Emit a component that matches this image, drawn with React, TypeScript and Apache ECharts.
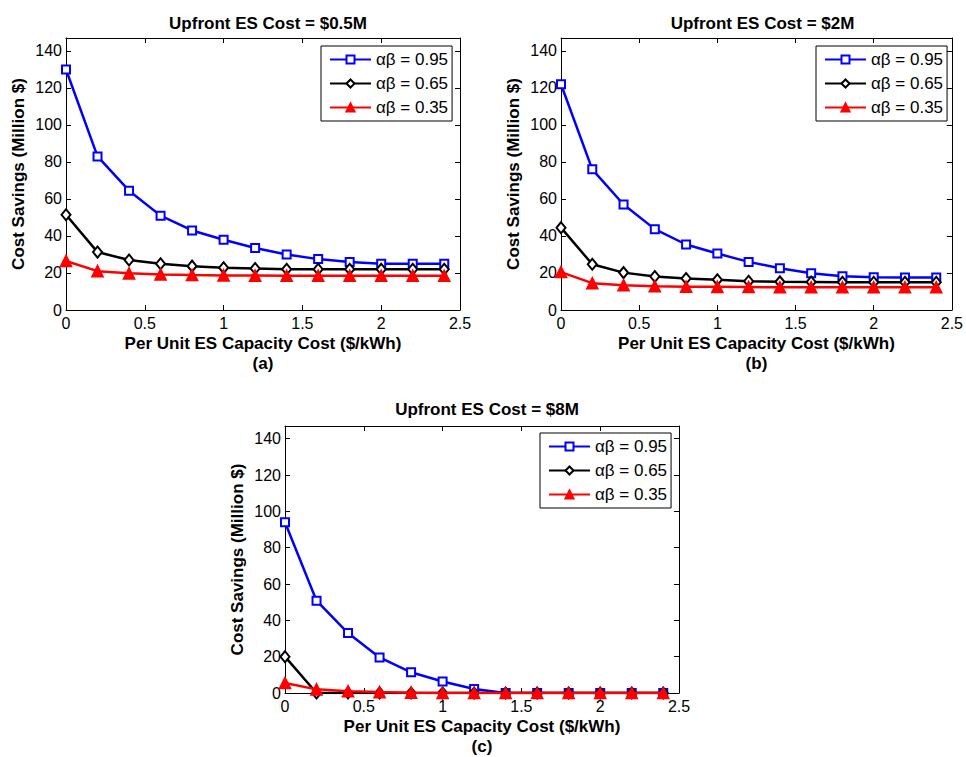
import React, { useEffect, useRef } from "react";
import * as echarts from "echarts";

// Per unit ES capacity cost ($/kWh)
const capacityCost = [0, 0.2, 0.4, 0.6, 0.8, 1.0, 1.2, 1.4, 1.6, 1.8, 2.0, 2.2, 2.4];
const xTicks = [0, 0.5, 1, 1.5, 2, 2.5];

const seriesNames = ["αβ = 0.95", "αβ = 0.65", "αβ = 0.35"];

// Upfront ES cost = $0.5M
const savingsA095 = [130, 83, 64.5, 51, 43, 38, 33.5, 30, 27.5, 26, 25, 25, 25];
const savingsA065 = [51.5, 31.3, 27, 25, 23.7, 22.8, 22.4, 22, 22, 22, 22, 22, 22];
const savingsA035 = [26.5, 21, 19.8, 19.2, 18.9, 18.7, 18.6, 18.5, 18.5, 18.5, 18.5, 18.5, 18.5];

// Upfront ES cost = $2M
const savingsB095 = [122, 76, 57, 43.7, 35.4, 30.5, 26, 22.6, 19.9, 18.2, 17.7, 17.6, 17.6];
const savingsB065 = [44.5, 24.7, 20.2, 18.1, 17, 16.3, 15.5, 15.2, 15.1, 15, 15, 15, 15];
const savingsB035 = [20.5, 14.5, 13.4, 12.8, 12.6, 12.5, 12.4, 12.3, 12.3, 12.3, 12.3, 12.3, 12.3];

// Upfront ES cost = $8M
const savingsC095 = [94, 50.8, 33, 19.6, 11.4, 6.3, 2.2, 0, 0, 0, 0, 0, 0];
const savingsC065 = [20, 0, 0, 0, 0, 0, 0, 0, 0, 0, 0, 0, 0];
const savingsC035 = [5.5, 2, 1, 0.5, 0.2, 0, 0, 0, 0, 0, 0, 0, 0];

const panels = [
  { title: "Upfront ES Cost = $0.5M", tag: "(a)", data: [savingsA095, savingsA065, savingsA035] },
  { title: "Upfront ES Cost = $2M", tag: "(b)", data: [savingsB095, savingsB065, savingsB035] },
  { title: "Upfront ES Cost = $8M", tag: "(c)", data: [savingsC095, savingsC065, savingsC035] },
];

const FONT = "'Liberation Sans', Arial, Helvetica, sans-serif";

const grids = [
  { left: 66, top: 38, width: 394, height: 272 },
  { left: 561, top: 38, width: 393, height: 272 },
  { left: 285, top: 426, width: 394, height: 270 },
];
const titleTops = [10, 10, 396];
const legendPos = [
  { left: 321, top: 46 },
  { left: 816, top: 46 },
  { left: 540, top: 433 },
];

const styles = [
  { color: "#0000ff", symbol: "emptyRect", symbolSize: 8 },
  { color: "#000000", symbol: "emptyDiamond", symbolSize: [9, 11] },
  { color: "#ff0000", symbol: "triangle", symbolSize: 11 },
];

export default function App() {
  const ref = useRef<HTMLDivElement>(null);

  useEffect(() => {
    if (!ref.current) return;
    const chart = echarts.init(ref.current, undefined, { renderer: "svg" });

    const xAxis: any[] = [];
    const yAxis: any[] = [];
    const series: any[] = [];
    const title: any[] = [];
    const legend: any[] = [];

    panels.forEach((p, i) => {
      const g = grids[i];
      const tickIn = { show: true, inside: true, length: 5, lineStyle: { color: "#000", width: 1 } };
      const line = { show: true, onZero: false, lineStyle: { color: "#000", width: 1 } };
      const xMax = xTicks[xTicks.length - 1];
      xAxis.push({
        type: "value",
        gridIndex: i,
        position: "bottom",
        min: xTicks[0],
        max: xMax,
        interval: 0.5,
        axisLine: line,
        axisTick: tickIn,
        splitLine: { show: false },
        axisLabel: { color: "#000", fontSize: 16, fontFamily: FONT, margin: 5 },
        name: "Per Unit ES Capacity Cost ($/kWh)\n" + p.tag,
        nameLocation: "middle",
        nameGap: 23,
        nameTextStyle: { color: "#000", fontSize: 17, fontWeight: "bold", fontFamily: FONT, lineHeight: 20 },
      });
      xAxis.push({
        type: "value",
        gridIndex: i,
        position: "top",
        min: xTicks[0],
        max: xMax,
        interval: 0.5,
        axisLine: line,
        axisTick: tickIn,
        splitLine: { show: false },
        axisLabel: { show: false },
      });
      yAxis.push({
        type: "value",
        gridIndex: i,
        position: "left",
        min: 0,
        max: 147,
        interval: 20,
        axisLine: line,
        axisTick: tickIn,
        splitLine: { show: false },
        axisLabel: { color: "#000", fontSize: 16, fontFamily: FONT, margin: 4, showMaxLabel: false },
        name: "Cost Savings (Million $)",
        nameLocation: "middle",
        nameRotate: 90,
        nameGap: 39,
        nameTextStyle: { color: "#000", fontSize: 17, fontWeight: "bold", fontFamily: FONT },
      });
      yAxis.push({
        type: "value",
        gridIndex: i,
        position: "right",
        min: 0,
        max: 147,
        interval: 20,
        axisLine: line,
        axisTick: tickIn,
        splitLine: { show: false },
        axisLabel: { show: false },
      });

      p.data.forEach((vals, k) => {
        const st = styles[k];
        series.push({
          type: "line",
          name: seriesNames[k],
          xAxisIndex: i * 2,
          yAxisIndex: i * 2,
          data: capacityCost.map((x, j) => [x, vals[j]]),
          symbol: st.symbol,
          symbolSize: st.symbolSize,
          showAllSymbol: true,
          lineStyle: { color: st.color, width: 2.5 },
          itemStyle: { color: st.color, borderColor: st.color, borderWidth: 1.6 },
          emphasis: { disabled: true },
          z: 2 + k,
        });
      });

      title.push({
        text: p.title,
        left: g.left + g.width / 2,
        top: titleTops[i],
        textAlign: "center",
        textStyle: { color: "#000", fontSize: 17, fontWeight: "bold", fontFamily: FONT },
      });

      legend.push({
        data: seriesNames,
        orient: "vertical",
        left: legendPos[i].left,
        top: legendPos[i].top,
        backgroundColor: "#fff",
        borderColor: "#000",
        borderWidth: 1,
        borderRadius: 0,
        padding: [5, 4, 5, 8],
        itemGap: 7,
        itemWidth: 41,
        itemHeight: 10,
        itemTextGap: 5,
        selectedMode: false,
        textStyle: { color: "#000", fontSize: 17, fontFamily: FONT, lineHeight: 16 },
      });
    });

    chart.setOption({
      animation: false,
      backgroundColor: "#fff",
      grid: grids.map((g) => ({ ...g, containLabel: false })),
      title,
      legend,
      xAxis,
      yAxis,
      series,
    });

    return () => chart.dispose();
  }, []);

  return (
    <div
      ref={ref}
      style={{ position: "absolute", left: 0, top: 0, width: 966, height: 757 }}
    />
  );
}
